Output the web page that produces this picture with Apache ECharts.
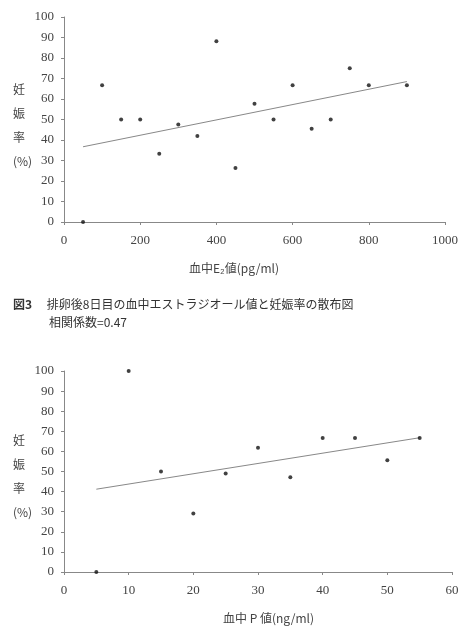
<!DOCTYPE html>
<html>
<head>
<meta charset="utf-8">
<script src="https://cdn.jsdelivr.net/npm/echarts@6/dist/echarts.min.js"></script>
<style>
html, body { margin: 0; padding: 0; background: #fff; }
#main { width: 468px; height: 637px; }
</style>
</head>
<body>
<div id="main"></div>
<script>
// 図3: 血中E2値 vs 妊娠率
var e2X = [50, 100, 150, 200, 250, 300, 350, 400, 450, 500, 550, 600, 650, 700, 750, 800, 900];
var e2Rate = [0, 66.7, 50, 50, 33.3, 47.6, 42, 88.2, 26.3, 57.7, 50, 66.7, 45.5, 50, 75, 66.7, 66.7];
var e2TrendX = [50, 900];
var e2TrendY = [36.7, 68.5];

// 血中P値 vs 妊娠率
var pX = [5, 10, 15, 20, 25, 30, 35, 40, 45, 50, 55];
var pRate = [0, 100, 50, 29.1, 49, 61.8, 47.1, 66.7, 66.7, 55.6, 66.7];
var pTrendX = [5, 55];
var pTrendY = [41.2, 66.8];

var serif = '"Liberation Serif", "DejaVu Serif", "Noto Sans CJK JP", serif';
var jp = '"Noto Sans CJK JP", sans-serif';
var textColor = '#444';

function pairs(xs, ys) {
    return xs.map(function (x, i) { return [x, ys[i]]; });
}

function xAxisOf(gridIndex, max, interval) {
    return {
        gridIndex: gridIndex,
        type: 'value',
        min: 0,
        max: max,
        interval: interval,
        axisLine: { show: true, lineStyle: { color: '#888', width: 1 } },
        axisTick: { show: true, length: 3, lineStyle: { color: '#888' } },
        axisLabel: {
            color: textColor, fontFamily: serif, fontSize: 13, margin: 12,
            formatter: function (v) { return String(v); }
        },
        splitLine: { show: false }
    };
}

function yAxisOf(gridIndex) {
    return {
        gridIndex: gridIndex,
        type: 'value',
        min: 0,
        max: 100,
        interval: 10,
        axisLine: { show: true, lineStyle: { color: '#888', width: 1 } },
        axisTick: { show: true, length: 3, lineStyle: { color: '#888' } },
        axisLabel: { color: textColor, fontFamily: serif, fontSize: 13, margin: 10 },
        splitLine: { show: false }
    };
}

var myChart = echarts.init(document.getElementById('main'));

var option = {
    backgroundColor: '#fff',
    animation: false,
    title: [
        {
            text: '妊\n\n娠\n\n率\n\n(%)',
            left: 8, top: 78,
            textStyle: { color: textColor, fontFamily: jp, fontSize: 12, fontWeight: 'normal', lineHeight: 12 }
        },
        {
            text: '血中E\u2082値(pg/ml)',
            left: 'center', top: 257,
            textStyle: { color: textColor, fontFamily: jp, fontSize: 12, fontWeight: 'normal' }
        },
        {
            text: '{b|図3}　 排卵後8日目の血中エストラジオール値と妊娠率の散布図',
            left: 8, top: 293,
            textStyle: {
                color: '#333', fontFamily: jp, fontSize: 12, fontWeight: 'normal',
                rich: { b: { fontFamily: jp, fontSize: 12, fontWeight: 'bold', color: '#333' } }
            }
        },
        {
            text: '相関係数=0.47',
            left: 44, top: 311,
            textStyle: { color: '#333', fontFamily: jp, fontSize: 12, fontWeight: 'normal' }
        },
        {
            text: '妊\n\n娠\n\n率\n\n(%)',
            left: 8, top: 429,
            textStyle: { color: textColor, fontFamily: jp, fontSize: 12, fontWeight: 'normal', lineHeight: 12 }
        },
        {
            text: '血中 P 値(ng/ml)',
            left: 218, top: 607,
            textStyle: { color: textColor, fontFamily: jp, fontSize: 12, fontWeight: 'normal' }
        }
    ],
    grid: [
        { left: 64, top: 17, width: 381, height: 205 },
        { left: 64, top: 371, width: 388, height: 201 }
    ],
    xAxis: [xAxisOf(0, 1000, 200), xAxisOf(1, 60, 10)],
    yAxis: [yAxisOf(0), yAxisOf(1)],
    series: [
        {
            type: 'line',
            xAxisIndex: 0, yAxisIndex: 0,
            data: pairs(e2TrendX, e2TrendY),
            symbol: 'none',
            lineStyle: { color: '#888', width: 1 },
            z: 1
        },
        {
            type: 'scatter',
            xAxisIndex: 0, yAxisIndex: 0,
            data: pairs(e2X, e2Rate),
            symbolSize: 4,
            itemStyle: { color: '#111' },
            z: 2
        },
        {
            type: 'line',
            xAxisIndex: 1, yAxisIndex: 1,
            data: pairs(pTrendX, pTrendY),
            symbol: 'none',
            lineStyle: { color: '#888', width: 1 },
            z: 1
        },
        {
            type: 'scatter',
            xAxisIndex: 1, yAxisIndex: 1,
            data: pairs(pX, pRate),
            symbolSize: 4,
            itemStyle: { color: '#111' },
            z: 2
        }
    ]
};
myChart.setOption(option);
</script>
</body>
</html>
